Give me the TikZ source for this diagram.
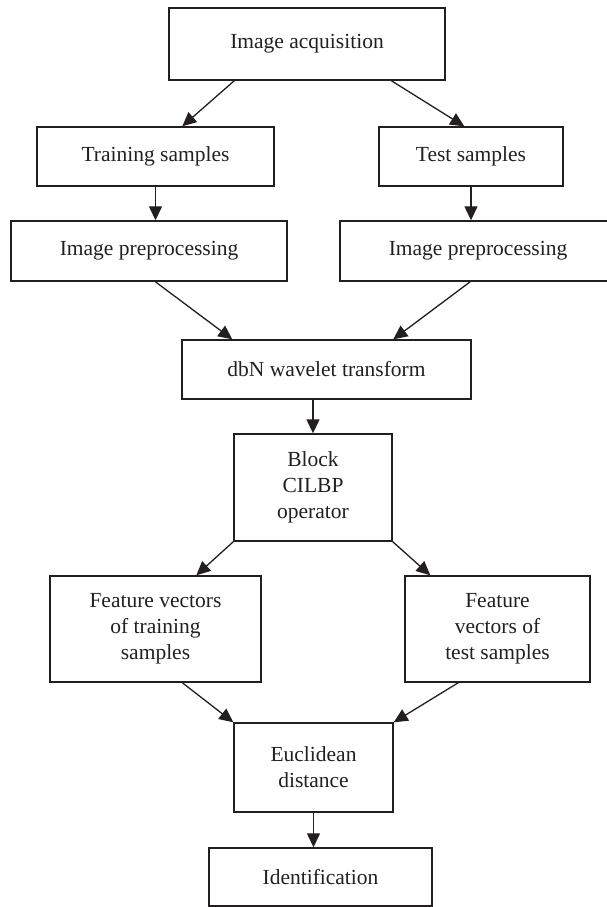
\documentclass[tikz,border=0pt]{standalone}
\usepackage{fontspec}
\setmainfont{Liberation Serif}
\usetikzlibrary{arrows.meta,calc}
\definecolor{ink}{HTML}{231F20}
\tikzset{
  box/.style={draw=ink, line width=1.4pt, inner sep=0pt, align=center,
    text=ink, font=\fontsize{21.5}{26}\selectfont},
  flow/.style={draw=ink, line width=1.3pt, -{Triangle[length=14pt,width=13pt]}}
}
\begin{document}
\begin{tikzpicture}[x=1pt, y=-1pt]
\useasboundingbox (0,0) rectangle (607,907);
\clip (0,0) rectangle (607,907);
% boxes of the pipeline
\node[box, minimum width=276pt, minimum height=72pt] (acq) at (307,44) {Image acquisition};
\node[box, minimum width=237pt, minimum height=59pt] (train) at (155.5,156.5) {Training samples};
\node[box, minimum width=184pt, minimum height=59pt] (test) at (471,156.5) {Test samples};
\node[box, minimum width=276pt, minimum height=60pt] (prepL) at (149,251) {Image preprocessing};
\node[box, minimum width=276pt, minimum height=60pt] (prepR) at (478,251) {Image preprocessing};
\node[box, minimum width=289pt, minimum height=59pt] (dbn) at (326.5,369.5) {dbN wavelet transform};
\node[box, minimum width=158pt, minimum height=107pt] (block) at (313,487.5) {Block\\CILBP\\operator};
\node[box, minimum width=211pt, minimum height=106pt] (fvtrain) at (155.5,629) {Feature vectors\\of training\\samples};
\node[box, minimum width=185pt, minimum height=106pt] (fvtest) at (497.5,629) {Feature\\vectors of\\test samples};
\node[box, minimum width=159pt, minimum height=89pt] (eucl) at (313.5,767.5) {Euclidean\\distance};
\node[box, minimum width=223pt, minimum height=58pt] (ident) at (320.5,877) {Identification};
% connectors
\draw[flow] ($(acq.south west)+(66,0)$) -- ($(train.north west)+(146,0)$);
\draw[flow] ($(acq.south west)+(223,0)$) -- ($(test.north west)+(86,0)$);
\draw[flow] (train.south) -- (train.south |- prepL.north);
\draw[flow] (test.south) -- (test.south |- prepR.north);
\draw[flow] ($(prepL.south west)+(145,0)$) -- ($(dbn.north west)+(51,0)$);
\draw[flow] ($(prepR.south west)+(131,0)$) -- ($(dbn.north west)+(212,0)$);
\draw[flow] (block.north |- dbn.south) -- (block.north);
\draw[flow] (block.south west) -- ($(fvtrain.north west)+(147,0)$);
\draw[flow] (block.south east) -- ($(fvtest.north west)+(26,0)$);
\draw[flow] ($(fvtrain.south west)+(133,0)$) -- (eucl.north west);
\draw[flow] ($(fvtest.south west)+(54,0)$) -- (eucl.north east);
\draw[flow] (eucl.south) -- (eucl.south |- ident.north);
\end{tikzpicture}
\end{document}
